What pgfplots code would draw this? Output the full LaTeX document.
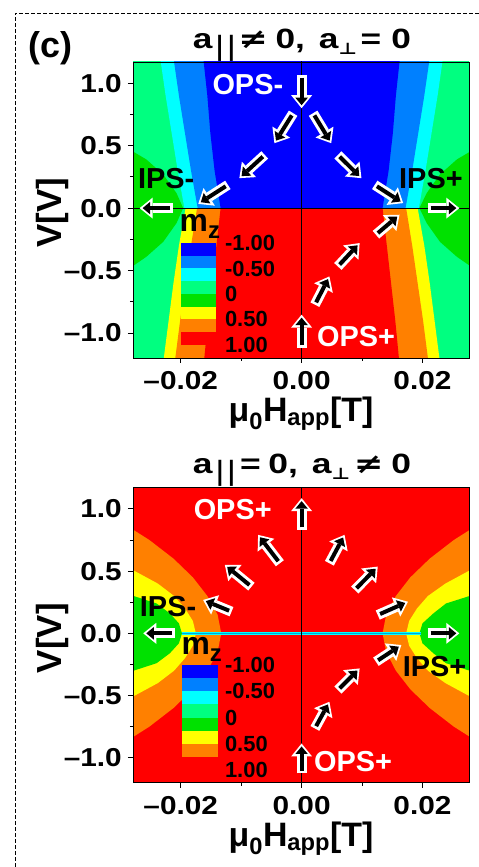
\documentclass[border=0pt]{standalone}
\usepackage{graphicx}
\usepackage{pgfplots}
\pgfplotsset{compat=1.18}
\usepackage{fontspec}
\setmainfont{Liberation Sans}
\newfontfamily\symfont{DejaVu Sans}
\usetikzlibrary{arrows.meta}
\definecolor{cA}{RGB}{0,0,255}
\definecolor{cB}{RGB}{0,128,255}
\definecolor{cC}{RGB}{0,255,255}
\definecolor{cD}{RGB}{0,255,128}
\definecolor{cE}{RGB}{0,225,0}
\definecolor{cF}{RGB}{255,255,0}
\definecolor{cG}{RGB}{255,128,0}
\definecolor{cH}{RGB}{255,0,0}
\newcommand\fs[1]{\fontsize{#1}{#1}\selectfont}
\newcommand\tl[1]{\scalebox{1.15}[1]{#1}}
\tikzset{
  wa/.style={white, line width=10bp, -{Triangle[length=13bp,width=21bp,line width=0pt]}},
  ba/.style={black, line width=4bp, shorten >=3bp, shorten <=2.6bp, -{Triangle[length=7.5bp,width=12.5bp,line width=0pt]}},
}
\newcommand\barrow[2]{\draw[wa] (axis cs:#1) -- (axis cs:#2); \draw[ba] (axis cs:#1) -- (axis cs:#2);}
\pgfplotsset{
 phase/.style={
  scale only axis, width=336bp,
  anchor=south west,
  xmin=-0.0279, xmax=0.0277, ymin=-1.2, ymax=1.17,
  axis on top,
  scaled x ticks=false,
  xtick={-0.02,0,0.02}, xticklabels={\tl{–0.02},\tl{0.00},\tl{0.02}},
  minor xtick={-0.01,0.01},
  ytick={-1,-0.5,0,0.5,1}, yticklabels={\tl{–1.0},\tl{–0.5},\tl{0.0},\tl{0.5},\tl{1.0}},
  minor ytick={-0.75,-0.25,0.25,0.75},
  tick align=outside, xtick pos=bottom, ytick pos=left,
  major tick length=5bp, minor tick length=3bp,
  every tick/.style={black, line width=0.8pt},
  axis line style={line width=0.8pt},
  xticklabel style={font=\fs{26}\bfseries, anchor=base, yshift=-27bp},
  yticklabel style={font=\fs{26}\bfseries, anchor=east, inner sep=0pt, xshift=-6bp},
  every axis x label/.style={at={(axis description cs:0.5,-0.215)}, anchor=base, font=\fs{34}\bfseries},
  every axis y label/.style={at={(axis description cs:-0.241,0.49)}, rotate=90, anchor=center, font=\fs{35}\bfseries},
  xlabel={μ\textsubscript{0}H\textsubscript{app}[T]},
  ylabel={V[V]},
 }
}
\begin{document}
\begin{tikzpicture}
\useasboundingbox (0,0) rectangle (479bp,867bp);
\draw[dash pattern=on 4bp off 2bp, line width=0.8bp] (15bp,0) -- (15bp,853.7bp) -- (479bp,853.7bp);
\node[anchor=base west, font=\fs{36}\bfseries, inner sep=0pt] at (28bp,809bp) {(c)};
\node[anchor=base, font=\fs{28}\bfseries, inner sep=0pt] at (302bp,818.7bp) {\resizebox{218bp}{\height}{a\hspace{2bp}\raisebox{-7bp}{\mdseries|\hspace{2bp}|}\hspace{2bp}{\symfont ≠}\hspace{6bp}0,\hspace{11bp}a\raisebox{-6bp}{\symfont\fs{16}⊥}\hspace{3bp}=\hspace{8bp}0}};
\node[anchor=base, font=\fs{28}\bfseries, inner sep=0pt] at (302bp,393.7bp) {\resizebox{218bp}{\height}{a\hspace{2bp}\raisebox{-7bp}{\mdseries|\hspace{2bp}|}\hspace{3bp}=\hspace{6bp}0,\hspace{11bp}a\raisebox{-6bp}{\symfont\fs{16}⊥}\hspace{3bp}{\symfont ≠}\hspace{6bp}0}};

% ---------------- top panel ----------------
\begin{axis}[phase, at={(133bp,509bp)}, height=296bp]
\addplot[fill=cD, draw=none] coordinates {(-0.031,-1.3) (0.031,-1.3) (0.031,1.3) (-0.031,1.3)} -- cycle;
% green blobs around V=0
\addplot[fill=cE, draw=none] coordinates {(-0.031,0.47) (-0.0278,0.45) (-0.0257,0.39) (-0.0229,0.27) (-0.0207,0.12) (-0.0196,0) (-0.0207,-0.12) (-0.0229,-0.27) (-0.0257,-0.39) (-0.0278,-0.46) (-0.031,-0.48)} -- cycle;
\addplot[fill=cE, draw=none] coordinates {(0.031,0.47) (0.0278,0.45) (0.0257,0.39) (0.0229,0.27) (0.0207,0.12) (0.0195,0) (0.0207,-0.12) (0.0229,-0.27) (0.0257,-0.39) (0.0278,-0.46) (0.031,-0.48)} -- cycle;
% upper half: cyan, medium blue, blue
\addplot[fill=cC, draw=none] coordinates {(-0.0235,1.25) (-0.0233,1.17) (-0.0225,0.9) (-0.0215,0.6) (-0.0205,0.3) (-0.0194,0) (0.0194,0) (0.0205,0.3) (0.0215,0.6) (0.0225,0.9) (0.0233,1.17) (0.0235,1.25)} -- cycle;
\addplot[fill=cB, draw=none] coordinates {(-0.0213,1.25) (-0.0211,1.17) (-0.0203,0.9) (-0.0193,0.6) (-0.0183,0.3) (-0.0172,0) (0.0172,0) (0.0183,0.3) (0.0193,0.6) (0.0203,0.9) (0.0211,1.17) (0.0213,1.25)} -- cycle;
\addplot[fill=cA, draw=none] coordinates {(-0.0163,1.25) (-0.0162,1.17) (-0.0156,0.9) (-0.0151,0.6) (-0.0144,0.3) (-0.0134,0) (0.0134,0) (0.0144,0.3) (0.0151,0.6) (0.0156,0.9) (0.0162,1.17) (0.0163,1.25)} -- cycle;
% lower half: yellow, orange, red
\addplot[fill=cF, draw=none] coordinates {(-0.0192,0) (-0.0203,-0.3) (-0.0212,-0.6) (-0.0220,-0.9) (-0.0228,-1.2) (-0.0229,-1.3) (0.0229,-1.3) (0.0228,-1.2) (0.0220,-0.9) (0.0212,-0.6) (0.0203,-0.3) (0.0192,0)} -- cycle;
\addplot[fill=cG, draw=none] coordinates {(-0.0173,0) (-0.0183,-0.3) (-0.0192,-0.6) (-0.0201,-0.9) (-0.0209,-1.2) (-0.0210,-1.3) (0.0210,-1.3) (0.0209,-1.2) (0.0201,-0.9) (0.0192,-0.6) (0.0183,-0.3) (0.0173,0)} -- cycle;
\addplot[fill=cH, draw=none] coordinates {(-0.0134,0) (-0.0141,-0.3) (-0.0148,-0.6) (-0.0155,-0.9) (-0.0161,-1.2) (-0.0162,-1.3) (0.0162,-1.3) (0.0161,-1.2) (0.0155,-0.9) (0.0148,-0.6) (0.0141,-0.3) (0.0134,0)} -- cycle;
% zero lines
\addplot[black, line width=1bp] coordinates {(-0.031,0) (0.031,0)};
\addplot[black, line width=1bp] coordinates {(0,-1.3) (0,1.3)};
% arrows
\barrow{0,1.066}{0,0.80}
\barrow{-0.0014,0.76}{-0.0045,0.52}
\barrow{-0.0061,0.426}{-0.0103,0.24}
\barrow{-0.0122,0.186}{-0.0171,0.034}
\barrow{-0.0213,0}{-0.0268,0}
\barrow{0.0019,0.76}{0.0049,0.52}
\barrow{0.0060,0.426}{0.0099,0.24}
\barrow{0.0121,0.186}{0.0168,0.04}
\barrow{0.0209,0}{0.0261,0}
\barrow{0,-1.12}{0,-0.853}
\barrow{0.0022,-0.773}{0.0046,-0.547}
\barrow{0.0060,-0.467}{0.0096,-0.28}
\barrow{0.0123,-0.213}{0.0162,-0.053}
% labels
\node[white, font=\fs{29}\bfseries] at (axis cs:-0.0089,0.986) {OPS-};
\node[black, font=\fs{29}\bfseries] at (axis cs:-0.0224,0.24) {IPS-};
\node[black, font=\fs{29}\bfseries] at (axis cs:0.0214,0.24) {IPS+};
\node[white, font=\fs{29}\bfseries] at (axis cs:0.0090,-1.027) {OPS+};
% colour key
\fill[cA] (axis cs:-0.01988,-0.2800) rectangle (axis cs:-0.0141,-0.3816);
\fill[cB] (axis cs:-0.01988,-0.3816) rectangle (axis cs:-0.0141,-0.4832);
\fill[cC] (axis cs:-0.01988,-0.4832) rectangle (axis cs:-0.0141,-0.5848);
\fill[cD] (axis cs:-0.01988,-0.5848) rectangle (axis cs:-0.0141,-0.6864);
\fill[cE] (axis cs:-0.01988,-0.6864) rectangle (axis cs:-0.0141,-0.7880);
\fill[cF] (axis cs:-0.01988,-0.7880) rectangle (axis cs:-0.0141,-0.8896);
\fill[cG] (axis cs:-0.01988,-0.8896) rectangle (axis cs:-0.0141,-0.9912);
\fill[cH] (axis cs:-0.01988,-0.9912) rectangle (axis cs:-0.0141,-1.0928);
\node[anchor=base west, inner sep=0pt, font=\fs{32}\bfseries] at (axis cs:-0.0202,-0.187) {m\raisebox{-7bp}{\fs{24}z}};
\node[anchor=west, inner sep=0pt, font=\fs{22}\bfseries] at (axis cs:-0.0127,-0.2800) {-1.00};
\node[anchor=west, inner sep=0pt, font=\fs{22}\bfseries] at (axis cs:-0.0127,-0.4832) {-0.50};
\node[anchor=west, inner sep=0pt, font=\fs{22}\bfseries] at (axis cs:-0.0127,-0.6864) {0};
\node[anchor=west, inner sep=0pt, font=\fs{22}\bfseries] at (axis cs:-0.0127,-0.8896) {0.50};
\node[anchor=west, inner sep=0pt, font=\fs{22}\bfseries] at (axis cs:-0.0127,-1.0928) {1.00};
\end{axis}

% ---------------- bottom panel ----------------
\begin{axis}[phase, at={(133bp,84.3bp)}, height=295bp]
\addplot[fill=cH, draw=none] coordinates {(-0.031,-1.3) (0.031,-1.3) (0.031,1.3) (-0.031,1.3)} -- cycle;
% left side
\addplot[fill=cG, draw=none] coordinates {(-0.031,0.95) (-0.0300,0.90) (-0.0278,0.83) (-0.0252,0.75) (-0.0212,0.60) (-0.0180,0.45) (-0.0156,0.30) (-0.0139,0.15) (-0.0133,0) (-0.0139,-0.15) (-0.0156,-0.30) (-0.0180,-0.45) (-0.0212,-0.60) (-0.0252,-0.75) (-0.0278,-0.83) (-0.0300,-0.90) (-0.031,-0.95)} -- cycle;
\addplot[fill=cF, draw=none] coordinates {(-0.031,0.57) (-0.0300,0.55) (-0.0276,0.50) (-0.0238,0.40) (-0.0211,0.30) (-0.0193,0.20) (-0.0180,0.10) (-0.0175,0) (-0.0180,-0.10) (-0.0193,-0.20) (-0.0211,-0.30) (-0.0238,-0.40) (-0.0276,-0.50) (-0.0300,-0.55) (-0.031,-0.57)} -- cycle;
\addplot[fill=cE, draw=none] coordinates {(-0.031,0.34) (-0.0300,0.33) (-0.0278,0.30) (-0.0240,0.24) (-0.0218,0.16) (-0.0203,0.08) (-0.0198,0) (-0.0203,-0.08) (-0.0218,-0.16) (-0.0240,-0.24) (-0.0278,-0.30) (-0.0300,-0.33) (-0.031,-0.34)} -- cycle;
% right side
\addplot[fill=cG, draw=none] coordinates {(0.031,0.95) (0.0300,0.90) (0.0278,0.83) (0.0252,0.75) (0.0212,0.60) (0.0180,0.45) (0.0156,0.30) (0.0140,0.15) (0.0134,0) (0.0140,-0.15) (0.0156,-0.30) (0.0180,-0.45) (0.0212,-0.60) (0.0252,-0.75) (0.0278,-0.83) (0.0300,-0.90) (0.031,-0.95)} -- cycle;
\addplot[fill=cF, draw=none] coordinates {(0.031,0.57) (0.0300,0.55) (0.0276,0.50) (0.0238,0.40) (0.0209,0.30) (0.0191,0.20) (0.0178,0.10) (0.0173,0) (0.0178,-0.10) (0.0191,-0.20) (0.0209,-0.30) (0.0238,-0.40) (0.0276,-0.50) (0.0300,-0.55) (0.031,-0.57)} -- cycle;
\addplot[fill=cE, draw=none] coordinates {(0.031,0.34) (0.0300,0.33) (0.0278,0.30) (0.0239,0.24) (0.0218,0.16) (0.0200,0.08) (0.0195,0) (0.0200,-0.08) (0.0218,-0.16) (0.0239,-0.24) (0.0278,-0.30) (0.0300,-0.33) (0.031,-0.34)} -- cycle;
% thin streak at V=0 and zero line
\addplot[cC, line width=2.6bp] coordinates {(-0.0198,0) (0.0198,0)};
\addplot[cB!70!cD, line width=0.8bp] coordinates {(-0.0198,0) (0.0198,0)};
\addplot[black, line width=0.6bp] coordinates {(0,-1.3) (0,1.3)};
% arrows
\barrow{0,0.831}{0,1.086}
\barrow{-0.0036,0.563}{-0.0072,0.791}
\barrow{-0.0083,0.375}{-0.0127,0.55}
\barrow{-0.0116,0.174}{-0.0163,0.268}
\barrow{-0.0210,0}{-0.0262,0}
\barrow{0.0046,0.563}{0.0071,0.791}
\barrow{0.0088,0.348}{0.0126,0.536}
\barrow{0.0126,0.147}{0.0176,0.254}
\barrow{0.0209,0}{0.0261,0}
\barrow{0.0123,-0.228}{0.0165,-0.094}
\barrow{0.0060,-0.456}{0.0096,-0.282}
\barrow{0.0022,-0.764}{0.0046,-0.55}
\barrow{0,-1.126}{0,-0.885}
% labels
\node[white, font=\fs{29}\bfseries] at (axis cs:-0.0114,0.992) {OPS+};
\node[black, font=\fs{29}\bfseries] at (axis cs:-0.0221,0.214) {IPS-};
\node[black, font=\fs{29}\bfseries] at (axis cs:0.0220,-0.268) {IPS+};
\node[white, font=\fs{29}\bfseries] at (axis cs:0.0085,-1.033) {OPS+};
% colour key
\fill[cA] (axis cs:-0.01979,-0.2550) rectangle (axis cs:-0.01387,-0.3604);
\fill[cB] (axis cs:-0.01979,-0.3604) rectangle (axis cs:-0.01387,-0.4658);
\fill[cC] (axis cs:-0.01979,-0.4658) rectangle (axis cs:-0.01387,-0.5712);
\fill[cD] (axis cs:-0.01979,-0.5712) rectangle (axis cs:-0.01387,-0.6766);
\fill[cE] (axis cs:-0.01979,-0.6766) rectangle (axis cs:-0.01387,-0.7820);
\fill[cF] (axis cs:-0.01979,-0.7820) rectangle (axis cs:-0.01387,-0.8874);
\fill[cG] (axis cs:-0.01979,-0.8874) rectangle (axis cs:-0.01387,-0.9928);
\fill[cH] (axis cs:-0.01979,-0.9928) rectangle (axis cs:-0.01387,-1.0982);
\node[anchor=base west, inner sep=0pt, font=\fs{32}\bfseries] at (axis cs:-0.0199,-0.174) {m\raisebox{-7bp}{\fs{24}z}};
\node[anchor=west, inner sep=0pt, font=\fs{22}\bfseries] at (axis cs:-0.0127,-0.2550) {-1.00};
\node[anchor=west, inner sep=0pt, font=\fs{22}\bfseries] at (axis cs:-0.0127,-0.4658) {-0.50};
\node[anchor=west, inner sep=0pt, font=\fs{22}\bfseries] at (axis cs:-0.0127,-0.6766) {0};
\node[anchor=west, inner sep=0pt, font=\fs{22}\bfseries] at (axis cs:-0.0127,-0.8874) {0.50};
\node[anchor=west, inner sep=0pt, font=\fs{22}\bfseries] at (axis cs:-0.0127,-1.0982) {1.00};
\end{axis}
\end{tikzpicture}
\end{document}
